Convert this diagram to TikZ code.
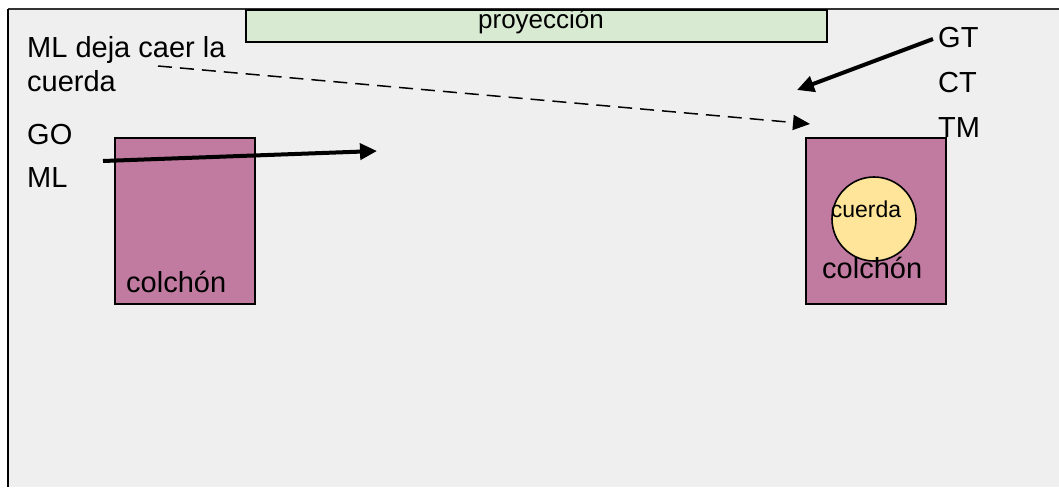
\documentclass[tikz,border=0pt]{standalone}
\usepackage{fontspec}
\setmainfont{Liberation Sans}
\usetikzlibrary{arrows.meta}
\definecolor{bggray}{HTML}{EFEFEF}
\definecolor{projgreen}{HTML}{D9EAD3}
\definecolor{matpink}{HTML}{C27BA0}
\definecolor{ropeyellow}{HTML}{FFE599}
\tikzset{
  lbl/.style={inner sep=0pt, anchor=base west, font=\fontsize{29}{34}\selectfont},
  mat/.style={draw=black, line width=1.6pt, fill=matpink, minimum width=140pt, minimum height=166pt, inner sep=0pt, anchor=north west},
  thickarrow/.style={line width=4pt, -{Triangle[length=17pt,width=16pt]}},
  dasharrow/.style={line width=1.5pt, dash pattern=on 14pt off 8pt, -{Triangle[length=17pt,width=15pt]}},
}
\begin{document}
\begin{tikzpicture}[x=1pt,y=-1pt]
\useasboundingbox (0,0) rectangle (1059,487);
\fill[white] (0,0) rectangle (1059,487);
\fill[bggray] (8,9) rectangle (1059,487);
\draw[line width=1.4pt, black!80] (8,9) -- (1059,9);
\draw[line width=2.2pt] (8,9) -- (8,487);
% projection
\node[draw=black, line width=1.6pt, fill=projgreen, minimum width=581pt, minimum height=32pt, inner sep=0pt, anchor=north west] (proj) at (245,9) {};
\node[inner sep=0pt, anchor=base, font=\fontsize{26}{30}\selectfont] (projt) at (541,29) {proyección};
% left text
\node[lbl] (mldeja) at (27,57) {ML deja caer la};
\node[lbl] (cuerdat) at (27,91) {cuerda};
\node[lbl] (go) at (27,144) {GO};
\node[lbl] (ml) at (27,187) {ML};
% mattresses
\node[mat] (matL) at (114,137) {};
\node[lbl] (colL) at (126,292) {colchón};
\node[mat] (matR) at (805,137) {};
\node[circle, draw=black, line width=1.6pt, fill=ropeyellow, minimum size=84pt, inner sep=0pt] (rope) at (874,219) {};
\node[inner sep=0pt, anchor=base, font=\fontsize{23}{27}\selectfont] (ropet) at (866,217) {cuerda};
\node[lbl] (colR) at (822,278) {colchón};
% right labels
\node[lbl] (gt) at (938,48) {GT};
\node[lbl] (ct) at (938,92) {CT};
\node[lbl] (tm) at (938,137) {TM};
% connectors
\coordinate (a1s) at (103,161);
\coordinate (a1e) at (377,151);
\draw[thickarrow] (a1s) -- (a1e);
\coordinate (a2s) at (933,39);
\coordinate (a2e) at (797,90);
\draw[thickarrow] (a2s) -- (a2e);
\coordinate (a3s) at (158,66);
\coordinate (a3e) at (810,124);
\draw[dasharrow] (a3s) -- (a3e);
\end{tikzpicture}
\end{document}
